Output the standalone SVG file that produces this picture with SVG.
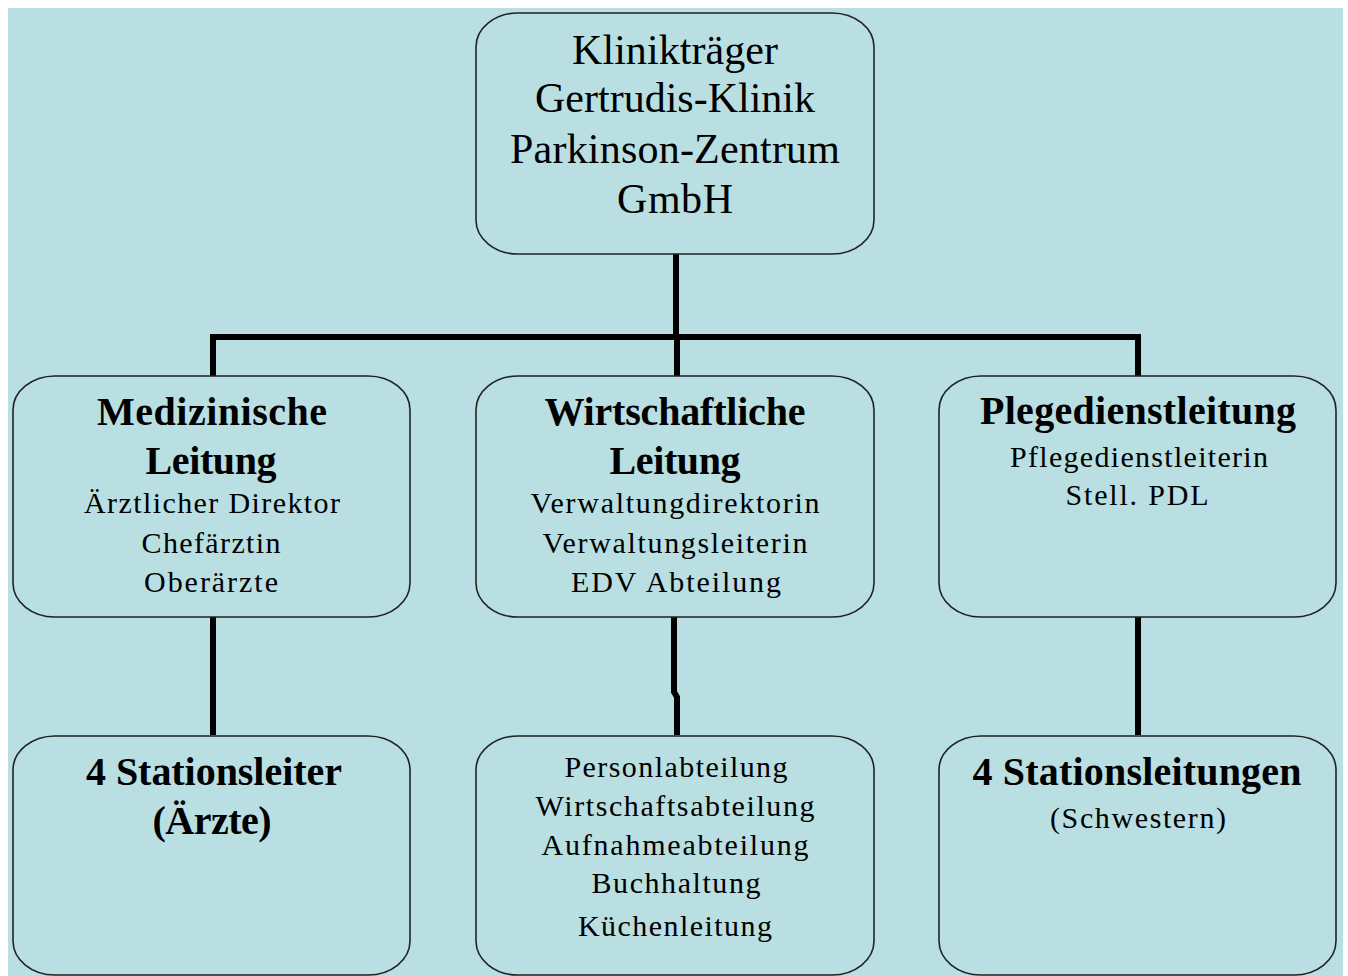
<svg xmlns="http://www.w3.org/2000/svg" width="1348" height="976" viewBox="0 0 1348 976">
<style>
.box{fill:#b9dfe2;stroke:#222;stroke-width:1.6}
.ln{fill:none;stroke:#000;stroke-width:6}
text{font-family:"Liberation Serif","Times New Roman",serif;fill:#000;text-anchor:middle}
.t{font-size:42px}
.b{font-size:40px;font-weight:bold}
.s{font-size:30px}
</style>
<rect x="0" y="0" width="1348" height="976" fill="#ffffff"/>
<rect x="8" y="8" width="1335" height="968" fill="#b9dfe2"/>
<g id="connectors">
<path class="ln" d="M676,254 V338"/>
<path class="ln" d="M213,376 V337 H1138 V376"/>
<path class="ln" d="M677,338 V376"/>
<path class="ln" d="M213,617 V735"/>
<path class="ln" d="M674,617 V692 L677,697 V735"/>
<path class="ln" d="M1138,617 V735"/>
</g>
<g id="n_top">
<rect class="box" x="476" y="13" width="398" height="241" rx="42" ry="34"/>
<text class="t" x="675" y="64" textLength="206">Klinikträger</text>
<text class="t" x="675" y="112" textLength="280">Gertrudis-Klinik</text>
<text class="t" x="675" y="163" textLength="330">Parkinson-Zentrum</text>
<text class="t" x="675" y="213" textLength="116">GmbH</text>
</g>
<g id="n_med">
<rect class="box" x="13" y="376" width="397" height="241" rx="42" ry="34"/>
<text class="b" x="212" y="425" textLength="230">Medizinische</text>
<text class="b" x="211" y="474" textLength="131">Leitung</text>
<text class="s" x="212" y="513" textLength="256">Ärztlicher Direktor</text>
<text class="s" x="211" y="553" textLength="139">Chefärztin</text>
<text class="s" x="211" y="592" textLength="134">Oberärzte</text>
</g>
<g id="n_wirt">
<rect class="box" x="476" y="376" width="398" height="241" rx="42" ry="34"/>
<text class="b" x="675" y="425" textLength="261">Wirtschaftliche</text>
<text class="b" x="675" y="474" textLength="131">Leitung</text>
<text class="s" x="675" y="513" textLength="289">Verwaltungdirektorin</text>
<text class="s" x="675" y="553" textLength="265">Verwaltungsleiterin</text>
<text class="s" x="676" y="592" textLength="210">EDV Abteilung</text>
</g>
<g id="n_pflege">
<rect class="box" x="939" y="376" width="397" height="241" rx="42" ry="34"/>
<text class="b" x="1138" y="424" textLength="316">Plegedienstleitung</text>
<text class="s" x="1139" y="467" textLength="258">Pflegedienstleiterin</text>
<text class="s" x="1137" y="505" textLength="143">Stell. PDL</text>
</g>
<g id="n_stat_aerzte">
<rect class="box" x="13" y="736" width="397" height="239" rx="42" ry="34"/>
<text class="b" x="214" y="785" textLength="256">4 Stationsleiter</text>
<text class="b" x="212" y="834" textLength="119">(Ärzte)</text>
</g>
<g id="n_abteilungen">
<rect class="box" x="476" y="736" width="398" height="239" rx="42" ry="34"/>
<text class="s" x="676" y="777" textLength="223">Personlabteilung</text>
<text class="s" x="675" y="816" textLength="279">Wirtschaftsabteilung</text>
<text class="s" x="675" y="855" textLength="267">Aufnahmeabteilung</text>
<text class="s" x="676" y="893" textLength="169">Buchhaltung</text>
<text class="s" x="675" y="936" textLength="194">Küchenleitung</text>
</g>
<g id="n_stat_schwestern">
<rect class="box" x="939" y="736" width="397" height="239" rx="42" ry="34"/>
<text class="b" x="1137" y="785" textLength="329">4 Stationsleitungen</text>
<text class="s" x="1138" y="828" textLength="176">(Schwestern)</text>
</g>
</svg>
